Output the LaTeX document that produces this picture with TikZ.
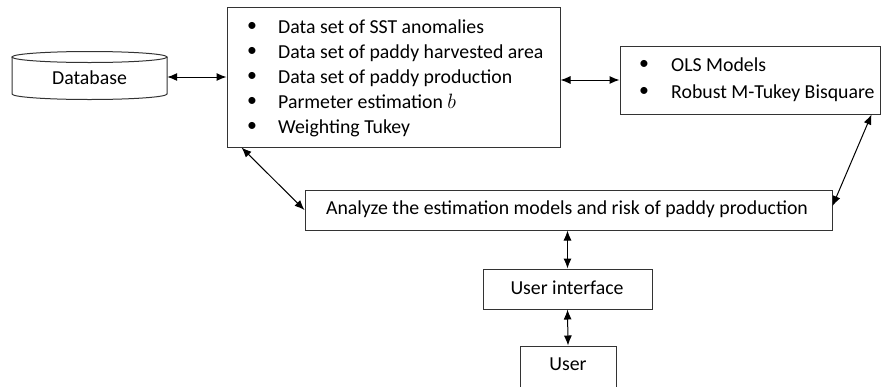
\documentclass[tikz,border=0pt]{standalone}
\usepackage{fontspec}
\setmainfont{Carlito}
\usetikzlibrary{arrows.meta}
\begin{document}
\begin{tikzpicture}[x=1pt,y=-1pt,
  box/.style={draw=black!80, line width=1pt, rectangle, inner sep=0pt},
  txt/.style={inner sep=0pt, anchor=base west, font=\fontsize{19.8}{25}\selectfont},
  ctxt/.style={inner sep=0pt, font=\fontsize{19.8}{25}\selectfont},
  bul/.style={inner sep=0pt, font=\fontsize{19.8}{25}\selectfont},
  link/.style={line width=1pt, {Latex[length=10pt,width=8pt]}-{Latex[length=10pt,width=8pt]}}]
\useasboundingbox (0,0) rectangle (882,386);

% Database cylinder
\draw[draw=black!80, line width=1pt] (89.5,57) ellipse [x radius=77.5pt, y radius=5.5pt];
\draw[draw=black!80, line width=1pt] (12,57) -- (12,94) arc[start angle=180, end angle=360, x radius=77.5pt, y radius=5.5pt] -- (167,57);
\node[ctxt, minimum width=155pt, minimum height=40pt] (db) at (89.5,78) {Database};

% Main data box
\node[box, minimum width=333pt, minimum height=140pt] (main) at (393.5,77) {};
\node[bul] (b1) at (252,27) {\textbullet};
\node[bul] (b2) at (252,52) {\textbullet};
\node[bul] (b3) at (252,77) {\textbullet};
\node[bul] (b4) at (252,102) {\textbullet};
\node[bul] (b5) at (252,127) {\textbullet};
\node[txt] (t1) at (278,33.5) {Data set of SST anomalies};
\node[txt] (t2) at (278,58.5) {Data set of paddy harvested area};
\node[txt] (t3) at (278,83.5) {Data set of paddy production};
\node[txt] (t4) at (278,108.5) {Parmeter estimation $b$};
\node[txt] (t5) at (278,133.5) {Weighting Tukey};

% Models box
\node[box, minimum width=260pt, minimum height=68pt] (ols) at (750,80) {};
\node[bul] (c1) at (644,65) {\textbullet};
\node[bul] (c2) at (644,92) {\textbullet};
\node[txt] (u1) at (671,71.5) {OLS Models};
\node[txt] (u2) at (671,98.5) {Robust M-Tukey Bisquare};

% Analyze box
\node[box, minimum width=527pt, minimum height=40pt] (analyze) at (568.5,210) {};
\node[ctxt] (at) at (567,209) {Analyze the estimation models and risk of paddy production};

% User interface
\node[box, minimum width=169pt, minimum height=40pt] (ui) at (567.5,289) {};
\node[ctxt] (uit) at (567,288) {User interface};

% User
\node[box, minimum width=96pt, minimum height=46pt] (user) at (568,369) {};
\node[ctxt] (ut) at (568,364) {User};

% Connectors
\draw[link] (db.east |- 0,77) -- (main.west |- 0,77);
\draw[link] (main.east |- ols.west) -- (ols.west);
\draw[link] ([xshift=15pt]main.south west) -- (analyze.west);
\draw[link] ([xshift=-9pt]ols.south east) -- ([yshift=4pt]analyze.east);
\draw[link] (analyze.south -| ui.north) -- (ui.north);
\draw[link] (ui.south) -- (user.north);
\end{tikzpicture}
\end{document}
